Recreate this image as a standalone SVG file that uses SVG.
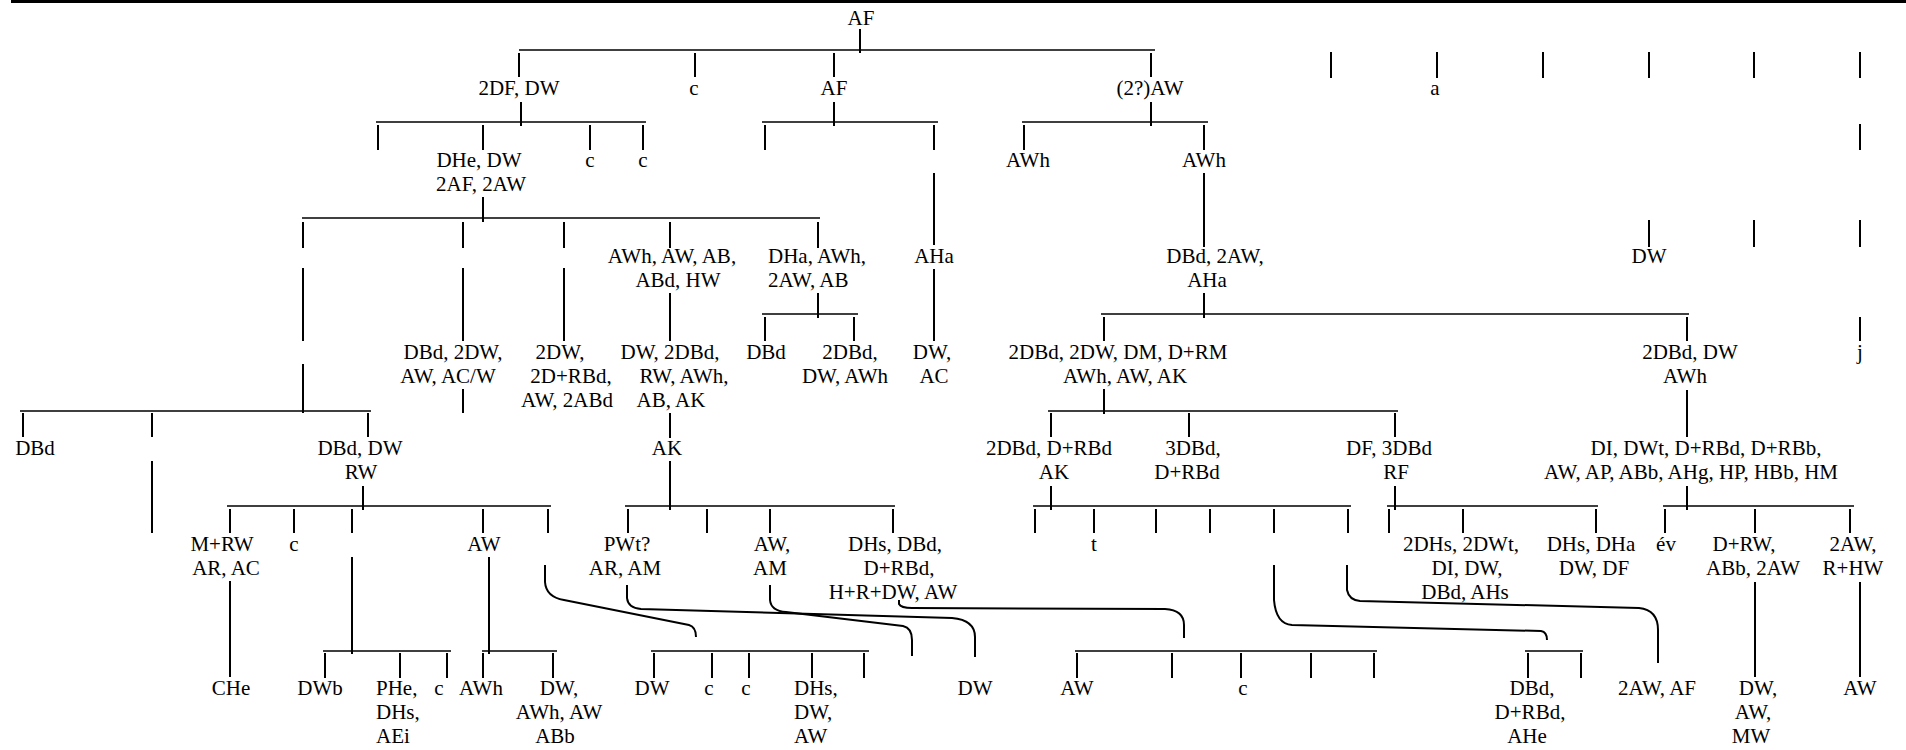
<svg xmlns="http://www.w3.org/2000/svg" width="1906" height="750" viewBox="0 0 1906 750">
<style>
text{font-family:'Liberation Serif','DejaVu Serif',serif;font-size:21px;fill:#000;text-anchor:middle}
text.s{text-anchor:start}
.h{stroke:#000;stroke-width:1.5;fill:none}
.v{stroke:#000;stroke-width:2;fill:none}
.c{stroke:#000;stroke-width:2;fill:none}
</style>
<rect x="11" y="0" width="1895" height="3" fill="#000"/>
<g id="connectors">
<g class="h">
<path d="M519 50H1155"/>
<path d="M376 122H646M762 122H938M1022 122H1208"/>
<path d="M302 218H820"/>
<path d="M762 314H858M1101 314H1689"/>
<path d="M20 411H371M1048 411H1398"/>
<path d="M227 506H551M625 506H895M1033 506H1351M1387 506H1598M1663 506H1854"/>
<path d="M323 651H451M482 651H557M651 651H869M1075 651H1377M1525 651H1583"/>
</g>
<g class="v">
<path d="M860 29V53"/>
<path d="M519 53V77M695 53V77M834 53V77M1151 53V77"/>
<path d="M1331 52V78M1437 52V78M1543 52V78M1649 52V78M1754 52V78M1860 52V78"/>
<path d="M1860 124V150M1649 220V247M1754 220V247M1860 220V247M1860 317V341"/>
<path d="M521 102V126M834 102V126M1151 102V126"/>
<path d="M378 125V150M483 125V150M590 125V150M643 125V150M765 125V150M934 125V150M1024 125V150M1204 125V150"/>
<path d="M934 173V245M1204 173V247"/>
<path d="M483 197V222"/>
<path d="M303 222V248M463 222V248M564 222V248M670 222V248M818 222V248"/>
<path d="M303 268V341M303 364V413M463 268V341M463 389V413M564 268V341"/>
<path d="M670 293V341M818 293V318M765 317V341M854 317V341M934 269V341"/>
<path d="M1204 293V318M1104 317V341M1687 317V341"/>
<path d="M23 413V437M152 413V437M368 413V437M152 461V533"/>
<path d="M670 413V438M670 461V510"/>
<path d="M1104 389V414M1051 413V437M1189 413V437M1395 413V437M1687 390V437"/>
<path d="M363 486V510M1051 486V510M1395 486V510M1687 486V510"/>
<path d="M230 509V533M294 509V533M352 509V533M483 509V533M548 509V533"/>
<path d="M628 509V533M707 509V533M770 509V533M893 509V533"/>
<path d="M1035 509V533M1094 509V533M1156 509V533M1210 509V533M1274 509V533M1348 509V533"/>
<path d="M1389 509V533M1463 509V533M1596 509V533M1665 509V533M1755 509V533M1850 509V533"/>
<path d="M230 581V677M352 557V654M489 557V654M1755 582V677M1860 582V677"/>
<path d="M325 653V678M400 653V678M447 653V678M483 653V678M553 653V678"/>
<path d="M654 653V678M712 653V678M749 653V678M812 653V678M864 653V678"/>
<path d="M1077 653V678M1172 653V678M1241 653V678M1311 653V678M1374 653V678M1528 653V678M1581 653V678"/>
</g>
<g class="c">
<path d="M545 565V582Q546 597 564 600L689 625Q696 627 696 637"/>
<path d="M627 585V598Q628 608 641 609L952 618Q975 620 975 637V657"/>
<path d="M770 585V600Q771 611 786 612L903 626Q912 628 912 640V656"/>
<path d="M899 600V604Q901 608 912 608L1165 609Q1184 610 1184 625V638"/>
<path d="M1274 565V600Q1276 624 1292 625L1541 631Q1547 632 1547 640"/>
<path d="M1347 565V590Q1349 600 1360 601L1639 608Q1658 610 1658 630V663"/>
</g>
</g>
<g id="n0"><text x="861" y="25">AF</text></g>
<g id="n1"><text x="519" y="95">2DF, DW</text></g>
<g id="n2"><text x="694" y="95">c</text></g>
<g id="n3"><text x="834" y="95">AF</text></g>
<g id="n4"><text x="1150" y="95">(2?)AW</text></g>
<g id="n5"><text x="1435" y="95">a</text></g>
<g id="n6"><text x="479" y="167">DHe, DW</text><text x="481" y="191">2AF, 2AW</text></g>
<g id="n7"><text x="590" y="167">c</text></g>
<g id="n8"><text x="643" y="167">c</text></g>
<g id="n9"><text x="1028" y="167">AWh</text></g>
<g id="n10"><text x="1204" y="167">AWh</text></g>
<g id="n11"><text x="672" y="263">AWh, AW, AB,</text><text x="678" y="287">ABd, HW</text></g>
<g id="n12"><text class="s" x="768" y="263">DHa, AWh,</text><text class="s" x="768" y="287">2AW, AB</text></g>
<g id="n13"><text x="934" y="263">AHa</text></g>
<g id="n14"><text x="1215" y="263">DBd, 2AW,</text><text x="1207" y="287">AHa</text></g>
<g id="n15"><text x="1649" y="263">DW</text></g>
<g id="n16"><text x="453" y="359">DBd, 2DW,</text><text x="448" y="383">AW, AC/W</text></g>
<g id="n17"><text x="560" y="359">2DW,</text><text x="571" y="383">2D+RBd,</text><text x="567" y="407">AW, 2ABd</text></g>
<g id="n18"><text x="670" y="359">DW, 2DBd,</text><text x="684" y="383">RW, AWh,</text><text x="671" y="407">AB, AK</text></g>
<g id="n19"><text x="766" y="359">DBd</text></g>
<g id="n20"><text x="850" y="359">2DBd,</text><text x="845" y="383">DW, AWh</text></g>
<g id="n21"><text x="932" y="359">DW,</text><text x="934" y="383">AC</text></g>
<g id="n22"><text x="1118" y="359">2DBd, 2DW, DM, D+RM</text><text x="1125" y="383">AWh, AW, AK</text></g>
<g id="n23"><text x="1690" y="359">2DBd, DW</text><text x="1685" y="383">AWh</text></g>
<g id="n24"><text x="1860" y="359">j</text></g>
<g id="n25"><text x="35" y="455">DBd</text></g>
<g id="n26"><text x="360" y="455">DBd, DW</text><text x="361" y="479">RW</text></g>
<g id="n27"><text x="667" y="455">AK</text></g>
<g id="n28"><text x="1049" y="455">2DBd, D+RBd</text><text x="1054" y="479">AK</text></g>
<g id="n29"><text x="1193" y="455">3DBd,</text><text x="1187" y="479">D+RBd</text></g>
<g id="n30"><text x="1389" y="455">DF, 3DBd</text><text x="1396" y="479">RF</text></g>
<g id="n31"><text x="1706" y="455">DI, DWt, D+RBd, D+RBb,</text><text x="1691" y="479">AW, AP, ABb, AHg, HP, HBb, HM</text></g>
<g id="n32"><text x="222" y="551">M+RW</text><text x="226" y="575">AR, AC</text></g>
<g id="n33"><text x="294" y="551">c</text></g>
<g id="n34"><text x="484" y="551">AW</text></g>
<g id="n35"><text x="627" y="551">PWt?</text><text x="625" y="575">AR, AM</text></g>
<g id="n36"><text x="772" y="551">AW,</text><text x="770" y="575">AM</text></g>
<g id="n37"><text x="895" y="551">DHs, DBd,</text><text x="899" y="575">D+RBd,</text><text x="893" y="599">H+R+DW, AW</text></g>
<g id="n38"><text x="1094" y="551">t</text></g>
<g id="n39"><text x="1461" y="551">2DHs, 2DWt,</text><text x="1467" y="575">DI, DW,</text><text x="1465" y="599">DBd, AHs</text></g>
<g id="n40"><text x="1591" y="551">DHs, DHa</text><text x="1594" y="575">DW, DF</text></g>
<g id="n41"><text x="1666" y="551">év</text></g>
<g id="n42"><text x="1744" y="551">D+RW,</text><text x="1753" y="575">ABb, 2AW</text></g>
<g id="n43"><text x="1853" y="551">2AW,</text><text x="1853" y="575">R+HW</text></g>
<g id="n44"><text x="231" y="695">CHe</text></g>
<g id="n45"><text x="320" y="695">DWb</text></g>
<g id="n46"><text class="s" x="376" y="695">PHe,</text><text class="s" x="376" y="719">DHs,</text><text class="s" x="376" y="743">AEi</text></g>
<g id="n47"><text x="439" y="695">c</text></g>
<g id="n48"><text x="481" y="695">AWh</text></g>
<g id="n49"><text x="559" y="695">DW,</text><text x="559" y="719">AWh, AW</text><text x="555" y="743">ABb</text></g>
<g id="n50"><text x="652" y="695">DW</text></g>
<g id="n51"><text x="709" y="695">c</text></g>
<g id="n52"><text x="746" y="695">c</text></g>
<g id="n53"><text class="s" x="794" y="695">DHs,</text><text class="s" x="794" y="719">DW,</text><text class="s" x="794" y="743">AW</text></g>
<g id="n54"><text x="975" y="695">DW</text></g>
<g id="n55"><text x="1077" y="695">AW</text></g>
<g id="n56"><text x="1243" y="695">c</text></g>
<g id="n57"><text x="1532" y="695">DBd,</text><text x="1530" y="719">D+RBd,</text><text x="1527" y="743">AHe</text></g>
<g id="n58"><text x="1657" y="695">2AW, AF</text></g>
<g id="n59"><text x="1758" y="695">DW,</text><text x="1753" y="719">AW,</text><text x="1751" y="743">MW</text></g>
<g id="n60"><text x="1860" y="695">AW</text></g>
</svg>
